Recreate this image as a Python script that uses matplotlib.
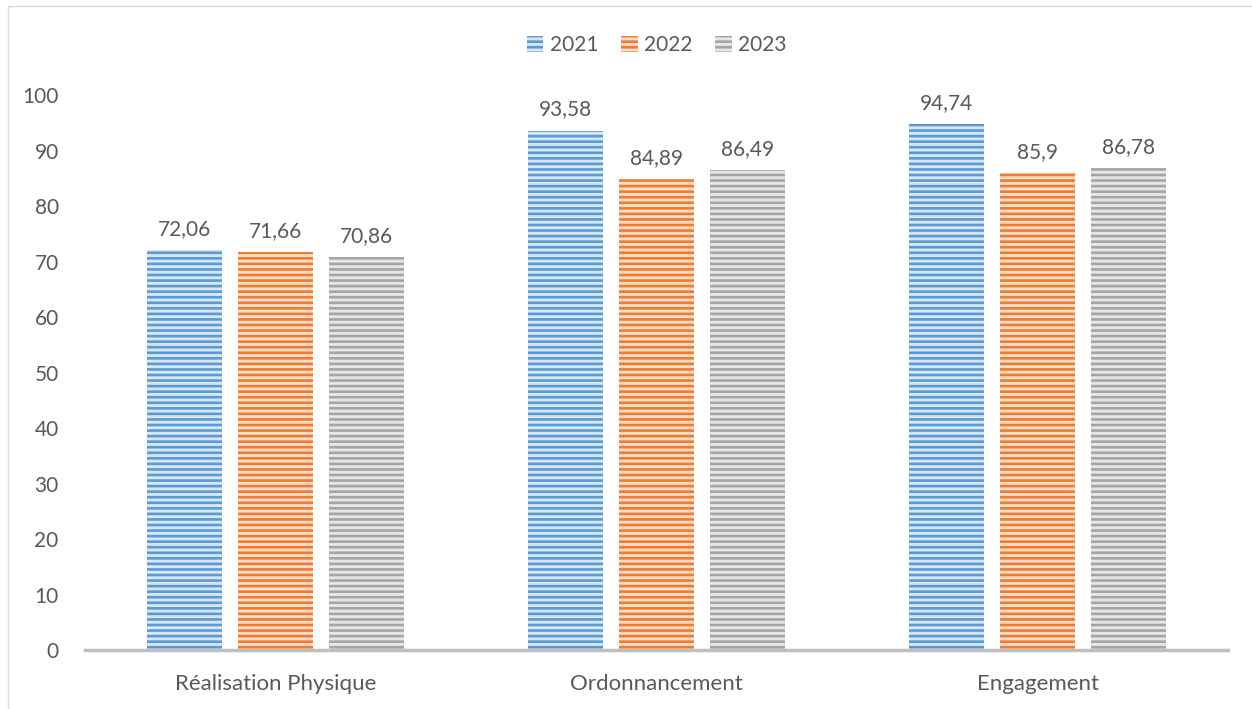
import numpy as np
import matplotlib as mpl; mpl.use("Agg")
import matplotlib.pyplot as plt
from matplotlib.patches import Rectangle

plt.rcParams.update({"font.family": ["Lato", "DejaVu Sans"], "hatch.linewidth": 1.9})

categories = ["Réalisation Physique", "Ordonnancement", "Engagement"]
years = ["2021", "2022", "2023"]
v2021 = [72.06, 93.58, 94.74]
v2022 = [71.66, 84.89, 85.90]
v2023 = [70.86, 86.49, 86.78]
labels = [["72,06", "93,58", "94,74"], ["71,66", "84,89", "85,9"], ["70,86", "86,49", "86,78"]]

INK = "#595959"
cols = ["#5B9BD5", "#ED7D31", "#A5A5A5"]
faces = ["#D6E6F5", "#FADCC9", "#E6E6E6"]

fig = plt.figure(figsize=(12.52, 7.09), dpi=100)
fig.patch.set_facecolor("white")
fig.add_artist(Rectangle((8 / 1252, -0.01), 1.1, 1 - 6 / 709 + 0.01, transform=fig.transFigure,
                         fill=False, edgecolor="#D9D9D9", lw=1.0))

ax = fig.add_axes([0.068, 0.083, 0.913, 0.783])
x = np.arange(len(categories))
w, off = 0.197, 0.239
for i, (vals, yr) in enumerate(zip([v2021, v2022, v2023], years)):
    bars = ax.bar(x + (i - 1) * off, vals, w, facecolor=faces[i], edgecolor=cols[i],
                  hatch="---", lw=0, label=yr, zorder=2)
    for b, t in zip(bars, labels[i]):
        ax.text(b.get_x() + b.get_width() / 2, b.get_height() + 2.0, t, ha="center",
                va="bottom", fontsize=15, color=INK)

ax.set_xlim(-0.5, 2.5)
ax.set_ylim(0, 100)
ax.set_yticks(range(0, 101, 10))
ax.set_xticks(x, categories)
ax.tick_params(axis="both", length=0, labelsize=15, labelcolor=INK)
ax.tick_params(axis="x", pad=17, labelsize=16)
ax.tick_params(axis="y", pad=19)
for s in ["top", "right", "left"]:
    ax.spines[s].set_visible(False)
ax.spines["bottom"].set_color("#BFBFBF")
ax.spines["bottom"].set_linewidth(2.5)
ax.spines["bottom"].set_zorder(3)

leg = ax.legend(loc="center", bbox_to_anchor=(0.5, 1.09), ncol=3, frameon=False,
                fontsize=15, handlelength=0.8, handleheight=0.8, handletextpad=0.3,
                columnspacing=1.1, labelcolor=INK)

fig.savefig("out.png", dpi=100, facecolor="white")
